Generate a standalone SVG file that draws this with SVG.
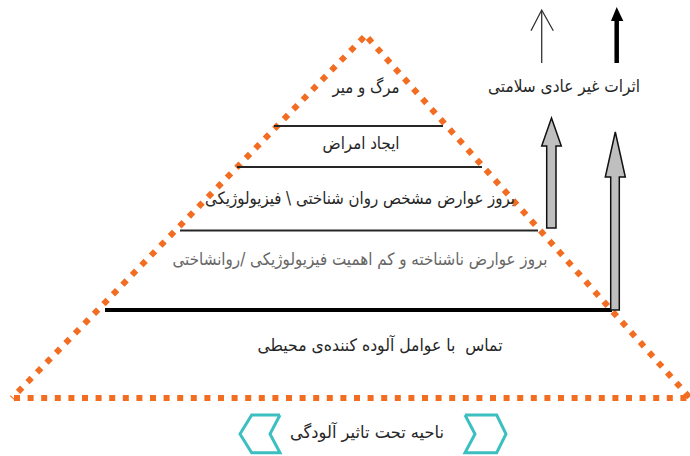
<svg xmlns="http://www.w3.org/2000/svg" width="690" height="456" viewBox="0 0 690 456">
<style>
.dot{fill:none;stroke:#F26D21;stroke-width:6;stroke-dasharray:6 7.6}
.lvl{stroke:#262626;stroke-width:2}
.t{font-family:"DejaVu Sans",sans-serif;font-size:17px;fill:#262626;text-anchor:middle}
.g{fill:#666666}
.garrow{fill:#BFBFBF;stroke:#111;stroke-width:1.5;stroke-linejoin:miter}
.chev{fill:none;stroke:#3CBFC0;stroke-width:3;stroke-linejoin:miter}
</style>
<rect width="690" height="456" fill="#ffffff"/>
<g id="pyramid">
<line class="dot" x1="364" y1="37" x2="12" y2="398"/>
<line class="dot" x1="368" y1="38" x2="690" y2="398"/>
<line class="dot" x1="14" y1="398" x2="690" y2="398"/>
</g>
<g id="level-death">
<text class="t" x="366" y="93" textLength="67" lengthAdjust="spacingAndGlyphs">مرگ و میر</text>
</g>
<g id="level-disease">
<line class="lvl" x1="274" y1="126" x2="443" y2="126"/>
<text class="t" x="361" y="149" textLength="77" lengthAdjust="spacingAndGlyphs">ایجاد امراض</text>
</g>
<g id="level-symptoms">
<line class="lvl" x1="237" y1="167" x2="482" y2="167"/>
<text class="t" x="360" y="204" textLength="310" lengthAdjust="spacingAndGlyphs">بروز عوارض مشخص روان شناختی \ فیزیولوژیکی</text>
</g>
<g id="level-minor">
<line class="lvl" x1="180" y1="230.5" x2="538" y2="230.5"/>
<text class="t g" x="360" y="265" textLength="375" lengthAdjust="spacingAndGlyphs">بروز عوارض ناشناخته و کم اهمیت فیزیولوژیکی /روانشاختی</text>
</g>
<g id="level-exposure">
<line x1="105" y1="310" x2="612" y2="310" stroke="#000" stroke-width="4"/>
<text class="t" x="380" y="351" textLength="245" lengthAdjust="spacingAndGlyphs" xml:space="preserve">تماس  با عوامل آلوده کننده&#8204;ی محیطی</text>
</g>
<g id="legend">
<text class="t" x="564" y="92" textLength="152" lengthAdjust="spacingAndGlyphs">اثرات غیر عادی سلامتی</text>
</g>
<g id="zone">
<polyline class="chev" points="280,415 251.7,415 240,434 251.7,452.7 280,452.7 270,434 280,415"/>
<polyline class="chev" points="465,415 496.7,415 506,434 496.7,452.7 465,452.7 475,434 465,415"/>
<text class="t" x="367" y="438" textLength="154" lengthAdjust="spacingAndGlyphs">ناحیه تحت تاثیر آلودگی</text>
</g>
<g id="connectors">
<line x1="541.7" y1="63" x2="541.7" y2="11" stroke="#333" stroke-width="1.3"/>
<polyline points="531,30.7 541.7,10 553.3,30.7" fill="none" stroke="#333" stroke-width="1.3"/>
<line x1="616.7" y1="63" x2="616.7" y2="19" stroke="#000" stroke-width="4.5"/>
<polygon points="611,21 616.7,7 623.3,21" fill="#000"/>
<polygon class="garrow" points="546.7,228 546.7,146 541.7,146 551.5,118 561.3,146 556,146 556,228"/>
<polygon class="garrow" points="610.7,310 610.7,177 605.3,177 615.3,132 625.3,177 619.3,177 619.3,310"/>
</g>
</svg>
